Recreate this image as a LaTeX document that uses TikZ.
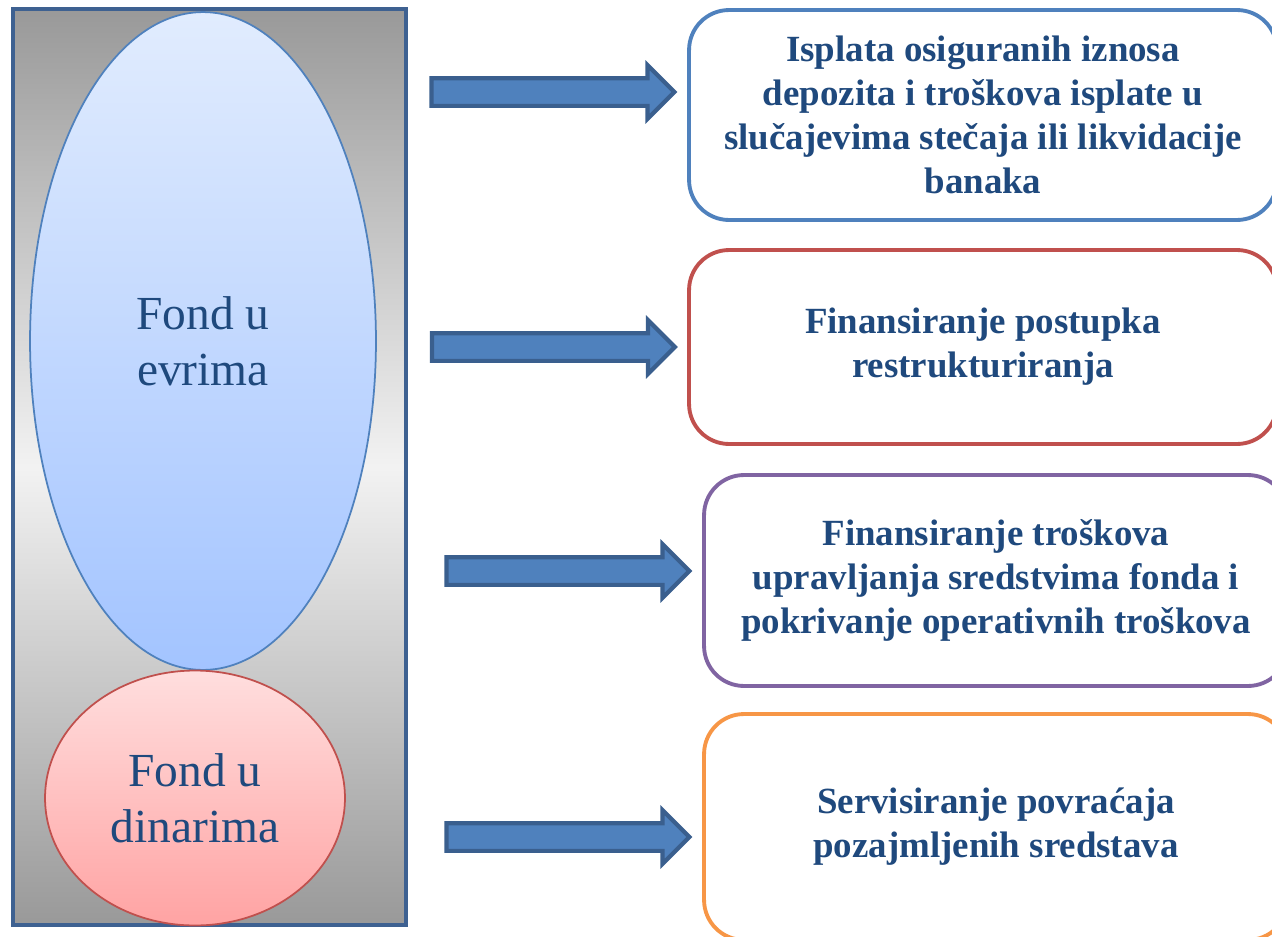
\documentclass[tikz,border=0pt]{standalone}
\usepackage{fontspec}
\setmainfont{Liberation Serif}
\usetikzlibrary{shapes}
\definecolor{txtblue}{HTML}{1F497D}
\definecolor{frameblue}{HTML}{3E6191}
\definecolor{arrowblue}{HTML}{4F81BD}
\definecolor{arrowedge}{HTML}{3A5F8E}
\definecolor{lineblue}{HTML}{4F81BD}
\definecolor{linered}{HTML}{C0504D}
\definecolor{linepurple}{HTML}{8064A2}
\definecolor{lineorange}{HTML}{F79646}
\definecolor{eurtop}{HTML}{E1ECFE}
\definecolor{eurbot}{HTML}{A3C4FF}
\definecolor{dintop}{HTML}{FFDEDE}
\definecolor{dinbot}{HTML}{FFA3A3}

\begin{document}
\begin{tikzpicture}[
    x = 0.02cm,
    y = -0.02cm,
    pool/.style={ellipse, inner sep=0pt, line width=1pt, align=center, text=txtblue,
        font=\fontsize{27}{32}\selectfont},
    goal/.style={draw, rounded corners=0.8cm, line width=2.2pt, fill=white, align=center,
        inner sep=0pt, text=txtblue, font=\fontsize{21}{25}\selectfont\bfseries},
    flow/.style={single arrow, draw=arrowedge, fill=arrowblue, line width=2.4pt,
        inner sep=0.235cm, single arrow head extend=0.26cm, minimum height=4.86cm}
]
    \useasboundingbox (0,0) rectangle (1272,937);
    \clip (0,0) rectangle (1272,937);

    \node[draw=frameblue, line width=2.2pt, inner sep=0pt,
        top color=black!40, bottom color=black!40, middle color=black!5,
        minimum width=7.86cm, minimum height=18.32cm] (fond) at (209.5,467) {};

    \node[pool, draw=lineblue, top color=eurtop, bottom color=eurbot,
        minimum width=6.92cm, minimum height=13.16cm] (eur) at (203,341) {Fond u\\evrima};
    \node[pool, draw=linered, top color=dintop, bottom color=dinbot,
        minimum width=6cm, minimum height=5.1cm] (din) at (195,798) {Fond u\\dinarima};

    \node[goal, draw=lineblue, minimum width=11.76cm, minimum height=4.2cm] (b1) at (983,115)
        {Isplata osiguranih iznosa\\depozita i troškova isplate u\\slučajevima stečaja ili likvidacije\\banaka};
    \node[goal, draw=linered, minimum width=11.76cm, minimum height=3.88cm] (b2) at (983,347)
        {Finansiranje postupka\\restrukturiranja};
    \node[goal, draw=linepurple, minimum width=11.68cm, minimum height=4.22cm] (b3) at (996,580.5)
        {Finansiranje troškova\\upravljanja sredstvima fonda i\\pokrivanje operativnih troškova};
    \node[goal, draw=lineorange, minimum width=11.68cm, minimum height=4.52cm] (b4) at (996,827)
        {Servisiranje povraćaja\\pozajmljenih sredstava};

    \node[flow] (a1) at (546,92) {};
    \node[flow] (a2) at (546.5,347) {};
    \node[flow] (a3) at (561,571) {};
    \node[flow] (a4) at (561,837) {};
\end{tikzpicture}
\end{document}
